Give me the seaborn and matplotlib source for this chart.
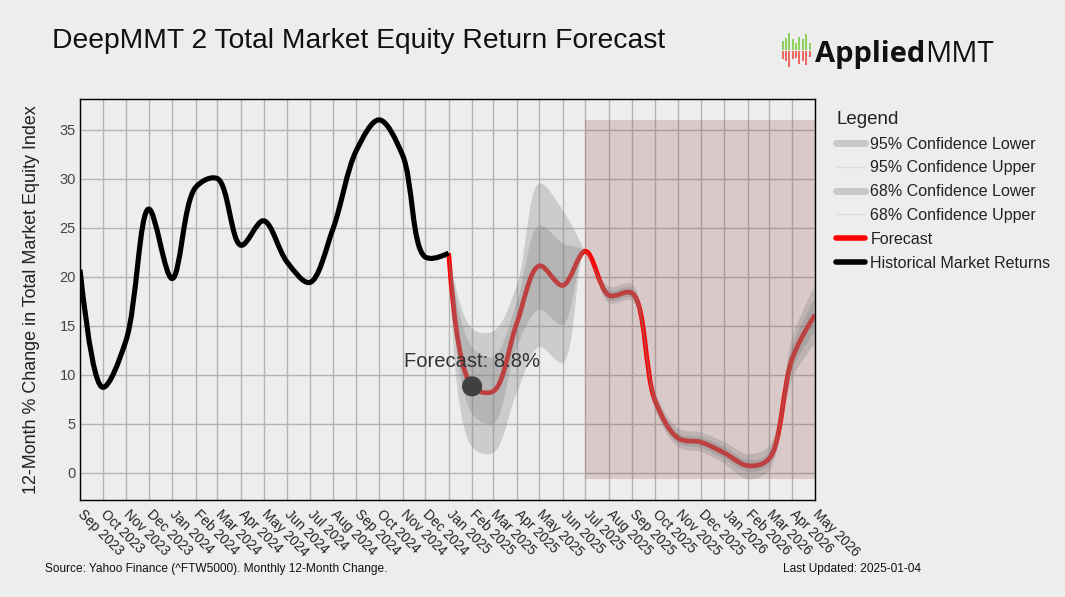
import numpy as np
import pandas as pd
import matplotlib
matplotlib.use("Agg")
import matplotlib.pyplot as plt
import matplotlib.dates as mdates
from matplotlib.path import Path
from matplotlib.patches import PathPatch
from matplotlib.lines import Line2D
import seaborn as sns

# historical 12-month % change (monthly)
hist_months = pd.date_range("2023-09-01", "2025-01-01", freq="MS")
hist_values = [20.7, 8.7, 13.5, 26.9, 19.8, 29.1, 30.0, 23.2, 25.7, 21.5,
               19.4, 24.9, 32.9, 36.0, 32.4, 22.0, 22.4]

# forecast + confidence bands
fc_months = pd.date_range("2025-01-01", "2026-05-01", freq="MS")
fc_values = [22.4, 8.8, 8.3, 15.2, 21.1, 19.1, 22.6, 18.1, 18.3, 7.4,
             3.5, 3.1, 2.0, 0.7, 1.4, 11.7, 16.1]
ci95_lower = [22.4, 2.6, 2.0, 8.1, 12.8, 11.2, 22.6, 17.3, 17.5, 6.5,
              2.6, 2.1, 0.9, -0.7, 0.2, 9.6, 13.2]
ci95_upper = [22.4, 14.7, 14.4, 19.0, 29.5, 26.8, 22.6, 19.0, 19.2, 8.3,
              4.5, 4.1, 3.1, 1.9, 2.7, 13.8, 19.1]
ci68_lower = [22.4, 6.0, 5.0, 12.8, 16.6, 15.1, 22.6, 17.6, 17.8, 6.9,
              3.0, 2.5, 1.4, 0.1, 0.8, 10.6, 14.4]
ci68_upper = [22.4, 12.8, 11.8, 17.3, 25.2, 23.4, 22.6, 18.6, 18.8, 7.9,
              4.0, 3.6, 2.6, 1.3, 2.0, 12.8, 17.8]

shade_start = "2025-07-01"
tick_months = pd.date_range("2023-09-01", "2026-05-01", freq="MS")

# logo bars
logo_up = [9, 12, 17, 11, 7, 13, 11, 16, 7]
logo_down = [8, 10, 15, 8, 7, 12, 10, 13, 6]

BG = "#ededed"
sns.set_theme(style="whitegrid", rc={
    "figure.facecolor": BG, "axes.facecolor": BG,
    "grid.color": "#b4b4b4", "grid.linewidth": 1.0,
    "axes.edgecolor": "black", "axes.linewidth": 1.0,
})
plt.rcParams["font.family"] = ["Liberation Sans", "DejaVu Sans"]


def spline_path(ax, x, y, smooth=1.0):
    # smoothed line through the points, tangents worked out in pixel space
    pts = ax.transData.transform(np.column_stack([x, y]))
    n = len(pts)
    tans = []
    for i in range(1, n - 1):
        d1 = pts[i - 1] - pts[i]
        d2 = pts[i + 1] - pts[i]
        d1a = np.hypot(*d1) ** 0.5
        d2a = np.hypot(*d2) ** 0.5
        num = (d2a ** 2 * d1 - d1a ** 2 * d2) * smooth
        tans.append((pts[i] + num / (3 * d2a * (d1a + d2a)),
                     pts[i] - num / (3 * d1a * (d1a + d2a))))
    verts = [pts[0], tans[0][0], pts[1]]
    codes = [Path.MOVETO, Path.CURVE3, Path.CURVE3]
    for i in range(2, n - 1):
        verts += [tans[i - 2][1], tans[i - 1][0], pts[i]]
        codes += [Path.CURVE4] * 3
    verts += [tans[n - 3][1], pts[n - 1]]
    codes += [Path.CURVE3] * 2
    verts = ax.transData.inverted().transform(np.array(verts))
    return list(map(tuple, verts)), codes


def add_line(ax, x, y, **kw):
    v, c = spline_path(ax, x, y)
    ax.add_patch(PathPatch(Path(v, c), fill=False, capstyle="butt",
                           joinstyle="round", **kw))


def add_band(ax, x, lo, hi, **kw):
    v1, c1 = spline_path(ax, x, hi)
    v2, c2 = spline_path(ax, x[::-1], lo[::-1])
    c2[0] = Path.LINETO
    verts = v1 + v2 + [v1[0]]
    codes = c1 + c2 + [Path.CLOSEPOLY]
    ax.add_patch(PathPatch(Path(verts, codes), lw=0, **kw))


hx = mdates.date2num(hist_months)
fx = mdates.date2num(fc_months)

fig = plt.figure(figsize=(10.65, 5.97), dpi=100)
ax = fig.add_axes([0.0751, 0.1625, 0.6902, 0.6712])
ax.set_axisbelow(True)

fc_df = pd.DataFrame({"month": fc_months, "value": fc_values})
sns.scatterplot(data=fc_df.iloc[[1]], x="month", y="value", s=210,
                color="#404040", edgecolor="none", zorder=6, ax=ax)

ax.set_xlim(tick_months[0], tick_months[-1])
ax.set_ylim(-2.8, 38.1)

# shaded period: from July 2025 to the end, spanning the data range
all_vals = hist_values + ci95_lower + ci95_upper
sx = mdates.date2num(pd.to_datetime([shade_start, fc_months[-1]]))
ax.fill_between(sx, min(all_vals), max(all_vals), color="#8b3a3a",
                alpha=0.2, lw=0, zorder=1)

add_line(ax, fx, fc_values, color="red", lw=3.4, zorder=2)
add_band(ax, fx, np.array(ci95_lower), np.array(ci95_upper),
         facecolor="grey", alpha=0.3, zorder=3)
add_band(ax, fx, np.array(ci68_lower), np.array(ci68_upper),
         facecolor="grey", alpha=0.3, zorder=4)
add_line(ax, hx, hist_values, color="black", lw=3.7, zorder=5)

ax.annotate(f"Forecast: {fc_values[1]:.1f}%", xy=(fx[1], fc_values[1]),
            xytext=(0, 18), textcoords="offset points", ha="center",
            va="center", fontsize=14.5, color="#333333", zorder=7)

ax.set_xticks(tick_months)
ax.set_xticklabels([d.strftime("%b %Y") for d in tick_months], rotation=-45,
                   ha="left", va="center", rotation_mode="anchor",
                   fontsize=9.8, color="#222222")
ax.set_yticks(range(0, 36, 5))
ax.tick_params(axis="y", labelsize=10.5, labelcolor="#444444", length=0, pad=3)
ax.tick_params(axis="x", length=0, pad=9)
ax.grid(True, color="#b4b4b4", lw=1.0)
for s in ax.spines.values():
    s.set_color("black")
    s.set_linewidth(1.0)
ax.set_xlabel("")
ax.set_ylabel("12-Month % Change in Total Market Equity Index",
              fontsize=12.9, color="#222222", labelpad=14)

handles = [
    Line2D([], [], color="#c8c8c8", lw=5),
    Line2D([], [], color="#dedede", lw=1),
    Line2D([], [], color="#c8c8c8", lw=5),
    Line2D([], [], color="#dedede", lw=1),
    Line2D([], [], color="red", lw=4),
    Line2D([], [], color="black", lw=4),
]
labels = ["95% Confidence Lower", "95% Confidence Upper",
          "68% Confidence Lower", "68% Confidence Upper",
          "Forecast", "Historical Market Returns"]
leg = fig.legend(handles, labels, loc="upper left",
                 bbox_to_anchor=(0.779, 0.825), frameon=False,
                 title="Legend", fontsize=11.5, title_fontsize=13.5,
                 alignment="left", handlelength=1.8, handletextpad=0.35,
                 labelspacing=0.55, borderaxespad=0)
leg.get_title().set_color("#222222")
for t in leg.get_texts():
    t.set_color("#222222")

fig.text(0.049, 0.931, "DeepMMT 2 Total Market Equity Return Forecast",
         fontsize=20.3, va="center", ha="left", color="#111111")

# logo
lax = fig.add_axes([0.733, 0.885, 0.029, 0.062])
lax.bar(range(len(logo_up)), logo_up, width=0.6, color="#8fd15f", lw=0)
lax.bar(range(len(logo_down)), [-v for v in logo_down], bottom=-1,
        width=0.6, color="#ee6a60", lw=0)
lax.set_xlim(-0.6, len(logo_up) - 0.4)
lax.set_ylim(-18, 18)
lax.axis("off")
t1 = fig.text(0.765, 0.909, "Applied", fontsize=21, fontweight="bold",
              va="center", ha="left", color="#111111",
              family=["Open Sans", "DejaVu Sans"])
ax.annotate("MMT", xy=(1, 0), xycoords=t1, va="bottom", ha="left",
            fontsize=21, color="#111111", family=["Open Sans", "DejaVu Sans"],
            annotation_clip=False)

fig.text(0.042, 0.047, "Source: Yahoo Finance (^FTW5000). Monthly 12-Month Change.",
         fontsize=8.6, va="center", ha="left", color="#111111")
fig.text(0.735, 0.047, "Last Updated: 2025-01-04",
         fontsize=8.6, va="center", ha="left", color="#111111")

fig.savefig("out.png", dpi=100, facecolor=BG)
